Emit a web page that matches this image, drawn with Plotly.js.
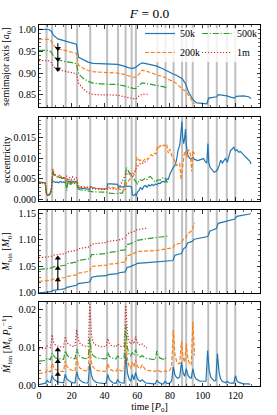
<!DOCTYPE html>
<html><head><meta charset="utf-8">
<script src="https://cdn.plot.ly/plotly-3.0.1.min.js"></script>
<style>html,body{margin:0;padding:0;background:#fff}#chart{width:277px;height:415px}</style>
</head><body><div id="chart"></div>
<script>
// ---------- data ----------
const SERIES = ['50k', '200k', '500k', '1m'];
const EVENT_TIMES = [4.6, 8.0, 16.3, 23.3, 31.3, 41.6, 48.3, 52.9, 56.6, 59.2, 72.3, 77.3, 82.2, 87.4, 89.9, 93.9, 103.4, 108.6, 114.7, 119.9];

// semimajor axis
const A_50K_T = [0,6,7.7,8.7,11.5,14.6,18.7,22.8,24.2,27,30,33,41,48,52,55,57.5,59,61,63,66,72,75,78,82,84,86,87.5,89.5,91.3,93,94.4,96.4,102.6,103.6,106.6,108.5,109.5,112,114.8,117,119.5,120.5,125,128,129.5];
const A_50K = [1.000,0.9995,0.995,0.987,0.978,0.975,0.970,0.966,0.936,0.930,0.925,0.922,0.921,0.920,0.916,0.912,0.911,0.913,0.919,0.9235,0.921,0.916,0.911,0.905,0.898,0.895,0.891,0.887,0.876,0.857,0.846,0.838,0.832,0.830,0.843,0.845,0.846,0.851,0.850,0.848,0.845,0.843,0.847,0.848,0.846,0.842];
const A_200K_T = [0,6,7.7,8.7,11.5,14.6,18.7,22.8,24.2,27,30,33,41,48,52,55,57.5,59,61,63,66,72,77,79,82,84,86,88,89.5,91.3,93,95];
const A_200K = [0.9775,0.977,0.9725,0.964,0.9555,0.952,0.949,0.945,0.918,0.911,0.906,0.903,0.9015,0.900,0.897,0.893,0.8905,0.8905,0.897,0.9065,0.904,0.896,0.890,0.8855,0.881,0.876,0.868,0.862,0.859,0.849,0.838,0.829];
const A_500K_T = [0,6,7.7,8.7,11.5,14.6,18.7,22.8,24.2,27,30,33,41,48,52,55,57.5,59,61,63,66,72,77,78.5];
const A_500K = [0.952,0.9515,0.947,0.939,0.931,0.927,0.925,0.922,0.898,0.888,0.881,0.877,0.8745,0.874,0.871,0.867,0.865,0.8645,0.871,0.8775,0.876,0.8725,0.868,0.8645];
const A_1M_T = [0,6,7.7,8.7,11.5,14.6,18.7,22.8,24.2,27,30,33,41,48,52,55,57.5,59,61,63,66.5];
const A_1M = [0.9285,0.928,0.9235,0.915,0.908,0.9048,0.902,0.899,0.877,0.864,0.855,0.851,0.850,0.8495,0.846,0.843,0.841,0.8405,0.8475,0.852,0.8515];

// eccentricity
const E_50K_T = [0,1,2,3,3.8,4.6,5.5,6.5,7.5,8,9,10,11,12,13,14,15,16,16.5,18,19,20,21,22,23,23.5,25,27,29,31,31.5,33,35,37,39,41.6,42,44,46,48,48.5,50,52,53,54,55,56.6,57,58,59,59.5,60,61,62,63,64,65,66,67,68,69,70,71,72,73,74,75,76,77,78,79,80,81,82,83,84,85,86,86.7,87.3,87.8,88.4,89,89.5,90,91,92,93,94,95,97,99,100.5,101.5,102.5,103.2,103.7,104.5,106,107,108,109,110,111,112,113,114,115,116,117,118,119,120,121,122,123,124,125,126,127,128,129,129.5];
const E_50K = [0.0042,0.0042,0.0042,0.0041,0.0040,0.0015,0.0010,0.0012,0.0020,0.0045,0.0044,0.0042,0.0043,0.0041,0.0044,0.0042,0.0043,0.0041,0.0046,0.0044,0.0043,0.0045,0.0044,0.0043,0.0044,0.0030,0.0028,0.0027,0.0026,0.0025,0.0032,0.0029,0.0027,0.0026,0.0026,0.0027,0.0038,0.0038,0.0037,0.0037,0.0031,0.0031,0.0031,0.0033,0.0032,0.0033,0.0031,0.0012,0.0010,0.0014,0.0008,0.0018,0.0022,0.0030,0.0024,0.0032,0.0034,0.0030,0.0036,0.0033,0.0037,0.0034,0.0038,0.0036,0.0040,0.0039,0.0043,0.0044,0.0042,0.0050,0.0049,0.0062,0.0072,0.0078,0.0082,0.0095,0.0120,0.0132,0.0160,0.0188,0.0150,0.0135,0.0150,0.0170,0.0130,0.0105,0.0100,0.0098,0.0102,0.0097,0.0094,0.0096,0.0099,0.0092,0.0088,0.0135,0.0090,0.0078,0.0070,0.0066,0.0068,0.0072,0.0082,0.0095,0.0088,0.0094,0.0100,0.0090,0.0104,0.0118,0.0122,0.0126,0.0118,0.0120,0.0114,0.0116,0.0112,0.0108,0.0104,0.0099,0.0094,0.0092,0.0086];
const E_200K_T = [0,1,2,3,3.8,4.6,5.5,6.5,7.5,8,8.5,9,10,11,12,13,14,15,16,16.5,17.5,18.5,19.5,20.5,21.5,22.5,23.3,23.8,25,27,29,31,31.5,33,35,37,39,41.6,42,44,46,48,49,51,52.9,53.5,54.5,55.5,56.6,57.5,58.5,59.2,59.8,60.5,61.5,62.5,63.5,64.5,65.5,66.5,67.5,68.5,69.5,70.5,71.5,72.3,73,74,75,76,77,78,78.5,79,79.8,80.5,81.3,82.2,83,84,85,86,86.8,87.4,88.2,88.8,89.5,90.2,91,91.8,92.5,93.3,94,94.6,95];
const E_200K = [0.0042,0.0042,0.0042,0.0041,0.0040,0.0014,0.0012,0.0014,0.0022,0.0060,0.0070,0.0062,0.0058,0.0056,0.0054,0.0055,0.0052,0.0053,0.0050,0.0040,0.0045,0.0038,0.0044,0.0040,0.0043,0.0041,0.0042,0.0032,0.0030,0.0029,0.0029,0.0028,0.0030,0.0028,0.0027,0.0027,0.0027,0.0026,0.0030,0.0029,0.0028,0.0028,0.0025,0.0024,0.0025,0.0040,0.0045,0.0050,0.0052,0.0058,0.0062,0.0075,0.0102,0.0098,0.0094,0.0096,0.0092,0.0097,0.0100,0.0097,0.0104,0.0108,0.0106,0.0112,0.0110,0.0128,0.0125,0.0130,0.0127,0.0131,0.0130,0.0134,0.0120,0.0112,0.0122,0.0112,0.0104,0.0100,0.0090,0.0082,0.0085,0.0087,0.0048,0.0068,0.0090,0.0112,0.0118,0.0102,0.0117,0.0120,0.0108,0.0068,0.0118,0.0114,0.0110];
const E_500K_T = [0,1,2,3,3.8,4.6,5.5,6.5,7.5,8,8.5,9,10,11,12,13,14,15,16,16.5,17,17.5,18.5,19.5,20.5,21.5,22.5,23.3,23.8,25,27,29,31,31.5,33,35,37,39,41.6,42,44,46,48,49,51,52.5,53.3,54,55,56,56.6,57.5,58.5,59.2,60,61,62,63,64,65,66,67,68,69,70,71,72,73,74,75,76,77,78,78.5];
const E_500K = [0.0042,0.0042,0.0042,0.0041,0.0040,0.0014,0.0011,0.0013,0.0022,0.0062,0.0068,0.0060,0.0057,0.0055,0.0052,0.0054,0.0051,0.0052,0.0050,0.0035,0.0022,0.0040,0.0048,0.0036,0.0046,0.0038,0.0044,0.0043,0.0026,0.0024,0.0023,0.0022,0.0022,0.0020,0.0019,0.0019,0.0018,0.0018,0.0018,0.0016,0.0015,0.0015,0.0015,0.0016,0.0016,0.0040,0.0078,0.0072,0.0066,0.0062,0.0058,0.0052,0.0046,0.0040,0.0038,0.0044,0.0048,0.0046,0.0050,0.0052,0.0049,0.0054,0.0056,0.0052,0.0046,0.0042,0.0046,0.0048,0.0047,0.0050,0.0054,0.0052,0.0044,0.0041];
const E_1M_T = [0,1,2,3,3.8,4.6,5.5,6.5,7.5,8,8.5,9,10,11,12,12.5,13.5,14.5,15.5,16.3,16.8,17.5,18.5,19.5,20.5,21.5,22.5,23.3,23.8,25,27,29,31,31.5,33,35,37,39,41.6,42,44,46,48,49,50.5,51.5,52.5,53.3,54,55,56,56.6,57.5,58.5,59.2,60,61,62,63,64,65,66,66.5];
const E_1M = [0.0042,0.0042,0.0042,0.0041,0.0040,0.0012,0.0010,0.0014,0.0025,0.0068,0.0075,0.0066,0.0060,0.0058,0.0056,0.0060,0.0054,0.0056,0.0052,0.0050,0.0058,0.0046,0.0054,0.0048,0.0055,0.0049,0.0054,0.0052,0.0034,0.0032,0.0031,0.0031,0.0030,0.0027,0.0026,0.0026,0.0025,0.0025,0.0025,0.0027,0.0026,0.0025,0.0025,0.0030,0.0042,0.0050,0.0056,0.0064,0.0060,0.0062,0.0057,0.0060,0.0062,0.0068,0.0075,0.0080,0.0084,0.0087,0.0086,0.0090,0.0092,0.0094,0.0093];

// binary mass
const M_50K_T = [0,4.3,5.2,7.7,8.7,13,16,17,23,24,31,32.2,36,41.3,42.3,48,49,52.6,53.8,56.3,57.3,59,60,66,72,77,81.9,83,87.1,88.2,89.6,90.8,93.6,94.8,100,103.1,104.3,108.3,109.5,114.5,115.5,119.6,120.8,125,129.5];
const M_50K = [1.000,1.0008,1.0015,1.003,1.005,1.0065,1.008,1.0105,1.0145,1.0175,1.0205,1.0295,1.0315,1.0325,1.0345,1.0365,1.038,1.0395,1.048,1.050,1.052,1.0535,1.0555,1.057,1.058,1.0595,1.061,1.071,1.074,1.083,1.086,1.094,1.097,1.101,1.104,1.106,1.116,1.121,1.131,1.135,1.137,1.139,1.144,1.146,1.149];
const M_200K_T = [0,4.3,5.2,7.7,8.7,16,17,23,24,31,32.2,41.3,42.3,48,49,52.6,53.8,56.3,57.3,59,60,72,77,81.9,83,87.1,88.2,89.6,90.8,93.6,95];
const M_200K = [1.022,1.0225,1.023,1.0245,1.026,1.029,1.031,1.034,1.037,1.041,1.050,1.0525,1.054,1.0555,1.057,1.058,1.070,1.072,1.074,1.076,1.078,1.080,1.082,1.085,1.091,1.094,1.101,1.104,1.111,1.118,1.132];
const M_500K_T = [0,4.3,5.2,7.7,8.7,16,17,23,24,31,32.2,41.3,42.3,48,49,52.6,53.8,56.3,57.3,59,60,66,72,78.5];
const M_500K = [1.0445,1.045,1.0455,1.047,1.049,1.052,1.055,1.058,1.061,1.0645,1.072,1.074,1.076,1.078,1.080,1.081,1.091,1.093,1.095,1.097,1.099,1.102,1.104,1.107];
const M_1M_T = [0,4.3,5.2,7.7,8.7,16,17,23,24,31,32.2,41.3,42.3,48,49,52.6,53.8,56.3,57.3,59,60,66.5];
const M_1M = [1.0665,1.067,1.0675,1.069,1.071,1.074,1.077,1.080,1.083,1.087,1.092,1.095,1.097,1.099,1.100,1.103,1.111,1.113,1.115,1.117,1.119,1.122];

// accretion rate (sampled once per P0)
const T_MD = [0,1,2,3,4,5,6,7,8,9,10,11,12,13,14,15,16,17,18,19,20,21,22,23,24,25,26,27,28,29,30,31,32,33,34,35,36,37,38,39,40,41,42,43,44,45,46,47,48,49,50,51,52,53,54,55,56,57,58,59,60,61,62,63,64,65,66,67,68,69,70,71,72,73,74,75,76,77,78,79,80,81,82,83,84,85,86,87,88,89,90,91,92,93,94,95,96,97,98,99,100,101,102,103,104,105,106,107,108,109,110,111,112,113,114,115,116,117,118,119,120,121,122,123,124,125,126,127,128,129];
const MD_50K = [0.0003,0.0004,0.0005,0.0006,0.0007,0.0014,0.0010,0.0009,0.0027,0.0018,0.0013,0.0011,0.0010,0.0009,0.0008,0.0008,0.0030,0.0019,0.0014,0.0011,0.0009,0.0008,0.0008,0.0037,0.0022,0.0015,0.0011,0.0009,0.0008,0.0007,0.0007,0.0058,0.0028,0.0016,0.0011,0.0009,0.0008,0.0007,0.0006,0.0006,0.0006,0.0007,0.0030,0.0016,0.0011,0.0008,0.0007,0.0006,0.0017,0.0010,0.0008,0.0007,0.0007,0.0085,0.0035,0.0018,0.0012,0.0030,0.0016,0.0035,0.0020,0.0014,0.0012,0.0016,0.0011,0.0008,0.0007,0.0006,0.0005,0.0005,0.0005,0.0005,0.0015,0.0009,0.0006,0.0005,0.0005,0.0012,0.0007,0.0006,0.0008,0.0012,0.0050,0.0030,0.0022,0.0020,0.0024,0.0062,0.0035,0.0025,0.0045,0.0028,0.0022,0.0020,0.0045,0.0025,0.0018,0.0015,0.0013,0.0012,0.0012,0.0011,0.0012,0.0093,0.0040,0.0022,0.0016,0.0013,0.0014,0.0085,0.0035,0.0018,0.0012,0.0009,0.0008,0.0012,0.0008,0.0007,0.0006,0.0007,0.0027,0.0013,0.0009,0.0007,0.0006,0.0005,0.0005,0.0006,0.0005,0.0004];
const MD_200K = [0.0033,0.0033,0.0034,0.0034,0.0035,0.0042,0.0038,0.0037,0.0060,0.0048,0.0043,0.0041,0.0040,0.0039,0.0038,0.0038,0.0065,0.0052,0.0046,0.0043,0.0041,0.0040,0.0039,0.0075,0.0056,0.0047,0.0043,0.0041,0.0040,0.0039,0.0039,0.0100,0.0062,0.0049,0.0044,0.0042,0.0040,0.0039,0.0039,0.0038,0.0038,0.0039,0.0058,0.0047,0.0042,0.0040,0.0039,0.0038,0.0045,0.0041,0.0039,0.0039,0.0040,0.0120,0.0070,0.0052,0.0046,0.0062,0.0050,0.0068,0.0052,0.0047,0.0046,0.0055,0.0047,0.0043,0.0041,0.0040,0.0039,0.0038,0.0038,0.0038,0.0042,0.0039,0.0038,0.0037,0.0037,0.0040,0.0038,0.0039,0.0042,0.0050,0.0147,0.0085,0.0065,0.0058,0.0060,0.0117,0.0075,0.0062,0.0112,0.0070,0.0058,0.0055,0.0169,0.0080];
const MD_500K = [0.0065,0.0066,0.0066,0.0067,0.0067,0.0073,0.0070,0.0069,0.0086,0.0078,0.0074,0.0072,0.0071,0.0070,0.0070,0.0070,0.0092,0.0082,0.0077,0.0074,0.0073,0.0072,0.0071,0.0097,0.0084,0.0078,0.0075,0.0073,0.0072,0.0071,0.0071,0.0125,0.0090,0.0080,0.0076,0.0074,0.0073,0.0072,0.0071,0.0071,0.0071,0.0072,0.0088,0.0078,0.0075,0.0073,0.0072,0.0071,0.0078,0.0074,0.0072,0.0072,0.0073,0.0160,0.0100,0.0084,0.0079,0.0088,0.0080,0.0095,0.0083,0.0078,0.0076,0.0080,0.0075,0.0073,0.0072,0.0071,0.0070,0.0070,0.0069,0.0069,0.0092,0.0078,0.0073,0.0071,0.0070,0.0074,0.0069];
const MD_1M = [0.0097,0.0098,0.0098,0.0099,0.0099,0.0105,0.0102,0.0101,0.0135,0.0115,0.0108,0.0105,0.0104,0.0103,0.0102,0.0102,0.0130,0.0116,0.0110,0.0107,0.0105,0.0104,0.0104,0.0148,0.0122,0.0112,0.0108,0.0106,0.0105,0.0104,0.0104,0.0215,0.0135,0.0115,0.0109,0.0107,0.0105,0.0104,0.0103,0.0103,0.0103,0.0104,0.0125,0.0112,0.0107,0.0105,0.0104,0.0103,0.0110,0.0106,0.0104,0.0104,0.0105,0.0212,0.0140,0.0117,0.0110,0.0120,0.0111,0.0130,0.0115,0.0109,0.0107,0.0110,0.0105,0.0102,0.0100];

// offset arrows (time, line extent, arrow-head values) per panel
const ARROW_T = 11.5;
const ARROW_A_LINE = [0.968, 0.907];
const ARROW_A_HEADS = [0.9565, 0.932, 0.909];
const ARROW_M_LINE = [1.006, 1.0665];
const ARROW_M_HEADS = [1.0245, 1.046, 1.0655];
const ARROW_MD_LINE = [0.0003, 0.0097];
const ARROW_MD_HEADS = [0.0030, 0.0064, 0.0095];

// ---------- styling ----------
const COLORS = ['#1f77b4', '#ff7f0e', '#2ca02c', '#d62728'];
const DASHES = ['solid', '4px,1.8px', '6px,1.8px,1.2px,1.8px', '1.2px,1.8px'];
const LEGENDS = ['legend', 'legend', 'legend2', 'legend2'];
const AX = ['', '2', '3', '4'];
const FONT = 'Liberation Serif, Times New Roman, serif';

const traces = [];
function addSeries(panel, xs, ys, i) {
  traces.push({
    type: 'scatter', mode: 'lines', x: xs, y: ys,
    xaxis: 'x' + AX[panel], yaxis: 'y' + AX[panel],
    name: SERIES[i], legendgroup: SERIES[i], legend: LEGENDS[i],
    showlegend: panel === 0,
    line: { color: COLORS[i], width: 1.2, dash: DASHES[i] },
    hoverinfo: 'skip'
  });
}
const A_T = [A_50K_T, A_200K_T, A_500K_T, A_1M_T], A_V = [A_50K, A_200K, A_500K, A_1M];
const E_T = [E_50K_T, E_200K_T, E_500K_T, E_1M_T], E_V = [E_50K, E_200K, E_500K, E_1M];
const M_T = [M_50K_T, M_200K_T, M_500K_T, M_1M_T], M_V = [M_50K, M_200K, M_500K, M_1M];
const MD_V = [MD_50K, MD_200K, MD_500K, MD_1M];
for (let i = 0; i < 4; i++) addSeries(0, A_T[i], A_V[i], i);
for (let i = 0; i < 4; i++) addSeries(1, E_T[i], E_V[i], i);
for (let i = 0; i < 4; i++) addSeries(2, M_T[i], M_V[i], i);
for (let i = 0; i < 4; i++) addSeries(3, T_MD.slice(0, MD_V[i].length), MD_V[i], i);

function addArrow(panel, line, heads, sym) {
  const ax = { xaxis: 'x' + AX[panel], yaxis: 'y' + AX[panel], showlegend: false, hoverinfo: 'skip', type: 'scatter' };
  traces.push(Object.assign({ mode: 'lines', x: [ARROW_T, ARROW_T], y: line, line: { color: '#000', width: 1.1 } }, ax));
  traces.push(Object.assign({ mode: 'markers', x: heads.map(() => ARROW_T), y: heads, marker: { symbol: sym, size: 5.5, color: '#000' } }, ax));
}
addArrow(0, ARROW_A_LINE, ARROW_A_HEADS, 'triangle-down');
addArrow(2, ARROW_M_LINE, ARROW_M_HEADS, 'triangle-up');
addArrow(3, ARROW_MD_LINE, ARROW_MD_HEADS, 'triangle-up');

const shapes = [];
AX.forEach(a => EVENT_TIMES.forEach(t => shapes.push({
  type: 'line', xref: 'x' + a, yref: 'y' + a + ' domain', x0: t, x1: t, y0: 0, y1: 1,
  layer: 'below', line: { color: 'rgba(128,128,128,0.5)', width: 2 }
})));
// legend frame (semi-transparent, behind both legend columns)
shapes.push({ type: 'rect', xref: 'paper', yref: 'paper', layer: 'above',
  x0: (141 - 39) / 221, x1: (258 - 39) / 221, y0: (386 - 62) / 361, y1: (386 - 28) / 361,
  fillcolor: 'rgba(255,255,255,0.8)', line: { width: 0 } });

function xAxis(anchor, labels) {
  return {
    anchor: anchor, range: [0, 135], tick0: 0, dtick: 20, showticklabels: labels,
    ticks: 'inside', ticklen: 3.5, tickwidth: 0.8, tickcolor: '#000',
    minor: { ticks: 'inside', ticklen: 2, tickwidth: 0.6, dtick: 5, tickcolor: '#000' },
    showline: true, linecolor: '#000', linewidth: 1, mirror: 'allticks',
    showgrid: false, zeroline: false, tickfont: { size: 10 }
  };
}
function yAxis(domain, range, dtick, fmt, minor) {
  return {
    domain: domain, range: range, tick0: 0, dtick: dtick, tickformat: fmt,
    ticks: 'inside', ticklen: 3.5, tickwidth: 0.8, tickcolor: '#000',
    minor: { ticks: 'inside', ticklen: 2, tickwidth: 0.6, dtick: minor, tickcolor: '#000' },
    showline: true, linecolor: '#000', linewidth: 1, mirror: 'allticks',
    showgrid: false, zeroline: false, tickfont: { size: 10 }
  };
}
const D1 = [0.7729, 1], D2 = [0.5125, 0.7452], D3 = [0.2576, 0.4875], D4 = [0, 0.2327];
const xa4 = xAxis('y4', true);
xa4.title = { text: 'time [<i>P</i><sub>0</sub>]', font: { size: 10 }, standoff: 1 };

const YTX = -0.145;
function yTitle(text, dom) {
  return { text: text, xref: 'paper', yref: 'paper', x: YTX, y: (dom[0] + dom[1]) / 2,
    textangle: -90, showarrow: false, xanchor: 'center', yanchor: 'middle', font: { size: 10 } };
}
function legendBox(x) {
  return { orientation: 'v', x: x, xanchor: 'left', y: (386 - 19) / 361, yanchor: 'top',
    bgcolor: 'rgba(0,0,0,0)', borderwidth: 0, font: { size: 10 }, traceorder: 'normal',
    tracegroupgap: 0 };
}

const layout = {
  width: 277, height: 415,
  margin: { l: 39, r: 17, t: 25, b: 29 },
  paper_bgcolor: '#fff', plot_bgcolor: '#fff',
  font: { family: FONT, size: 10, color: '#000' },
  title: { text: '<i>F</i> = 0.0', font: { size: 13.5 }, xref: 'container', yref: 'container',
    x: 0.54, xanchor: 'center', y: 1 - 13 / 415, yanchor: 'middle' },
  showlegend: true,
  legend: legendBox((140 - 39) / 221),
  legend2: legendBox((197 - 39) / 221),
  xaxis: xAxis('y', false), xaxis2: xAxis('y2', false), xaxis3: xAxis('y3', false), xaxis4: xa4,
  yaxis: yAxis(D1, [0.8226, 1.0098], 0.05, '.2f', 0.01),
  yaxis2: yAxis(D2, [-0.0003, 0.0199], 0.005, '.3f', 0.001),
  yaxis3: yAxis(D3, [0.9999, 1.156], 0.05, '.2f', 0.01),
  yaxis4: yAxis(D4, [-0.00005, 0.0221], 0.01, '.2f', 0.002),
  shapes: shapes,
  annotations: [
    yTitle('semimajor axis [<i>a</i><sub>0</sub>]', D1),
    yTitle('eccentricity', D2),
    yTitle('<i>M</i><sub>bin</sub> [<i>M</i><sub>0</sub>]', D3),
    yTitle('<i>Ṁ</i><sub>bin</sub> [<i>M</i><sub>0</sub> <i>P</i><sub>0</sub><sup>−1</sup>]', D4)
  ],
  hovermode: false
};
Plotly.newPlot('chart', traces, layout, { staticPlot: true, displayModeBar: false });
</script></body></html>
